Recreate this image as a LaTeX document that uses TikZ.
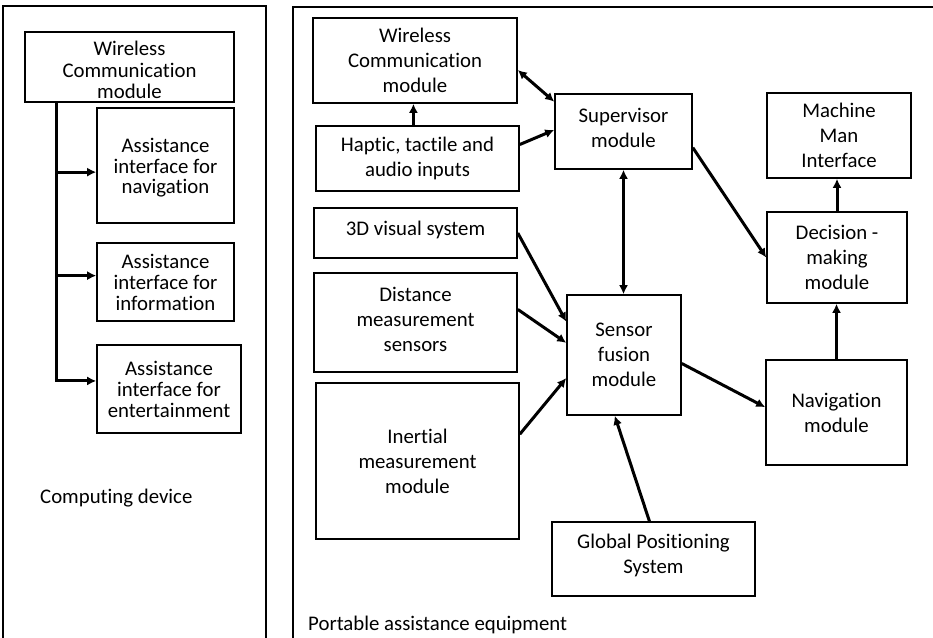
\documentclass[tikz,border=0pt]{standalone}
\usepackage{fontspec}
\setmainfont[Ligatures={NoCommon,NoRequired,NoContextual}]{Carlito}
\usetikzlibrary{arrows.meta,calc}
\begin{document}
\begin{tikzpicture}[x=1pt,y=-1pt,
  box/.style={draw=black,line width=1.6pt,inner sep=0pt,align=center,font=\fontsize{20.8}{25}\selectfont},
  lbox/.style={box,font=\fontsize{20.8}{21}\selectfont},
  txt/.style={inner sep=0pt,align=center,font=\fontsize{20.8}{25}\selectfont},
  frame/.style={draw=black,line width=1.5pt},
  arr/.style={line width=3pt,-{Latex[length=9pt,width=9pt]}},
  darr/.style={line width=3pt,{Latex[length=9pt,width=9pt]}-{Latex[length=9pt,width=9pt]}},
  lbl/.style={inner sep=0pt,font=\fontsize{20.8}{25}\selectfont}]
\useasboundingbox (0,0) rectangle (933,637);
\fill[white] (0,0) rectangle (933,637);
% frames
\draw[frame] (3,640) -- (3,6) -- (266,6) -- (266,640);
\draw[frame] (293,640) -- (293,7) -- (936,7);
% left boxes
\node[lbox,minimum width=209pt,minimum height=70pt] (LWC) at (129.5,67) {};
\node[txt,font=\fontsize{20.8}{21.5}\selectfont] (LWCt) at (129.5,70) {Wireless\\Communication\\module};
\node[lbox,minimum width=137pt,minimum height=115pt] (LNav) at (165.5,165.5) {};
\node[txt,font=\fontsize{20.8}{20.5}\selectfont] (LNavt) at (165.5,168) {Assistance\\interface for\\navigation};
\node[lbox,minimum width=137pt,minimum height=78pt] (LInf) at (165.5,282) {Assistance\\interface for\\information};
\node[lbox,minimum width=144pt,minimum height=88pt] (LEnt) at (169,389) {Assistance\\interface for\\entertainment};
\node[lbl,anchor=base west] (CD) at (40,503) {Computing device};
% right boxes
\node[box,minimum width=204pt,minimum height=85pt] (RWC) at (415,60.5) {Wireless\\Communication\\module};
\node[box,minimum width=203pt,minimum height=65pt] (Hap) at (417.5,158.5) {Haptic, tactile and\\audio inputs};
\node[box,minimum width=203pt,minimum height=50pt] (Vis) at (415.5,233) {};
\node[txt] (Vist) at (415.5,230) {3D visual system};
\node[box,minimum width=203pt,minimum height=99pt] (Dist) at (415.5,322.5) {};
\node[txt] (Distt) at (415.5,319) {Distance\\measurement\\sensors};
\node[box,minimum width=203pt,minimum height=156pt] (Ine) at (417.5,461) {Inertial\\measurement\\module};
\node[box,minimum width=137pt,minimum height=75pt] (Sup) at (623.5,131.5) {};
\node[txt] (Supt) at (623.5,127.5) {Supervisor\\module};
\node[box,minimum width=114pt,minimum height=120pt] (SF) at (624,355) {Sensor\\fusion\\module};
\node[box,minimum width=203pt,minimum height=74pt] (GPS) at (653.5,559) {};
\node[txt] (GPSt) at (653.5,555) {Global Positioning\\System};
\node[box,minimum width=144pt,minimum height=85pt] (MMI) at (839,135.5) {Machine\\Man\\Interface};
\node[box,minimum width=140pt,minimum height=91pt] (Dec) at (837,257.5) {Decision -\\making\\module};
\node[box,minimum width=141pt,minimum height=105pt] (Nav) at (836.5,412.5) {Navigation\\module};
\node[lbl,anchor=base west] (PAE) at (308,630) {Portable assistance equipment};
% left connectors
\coordinate (ltop) at ($(LWC.south west)!0.153!(LWC.south east)$);
\coordinate (pnav) at ($(LNav.north west)!0.557!(LNav.south west)$);
\coordinate (pinf) at ($(LInf.north west)!0.42!(LInf.south west)$);
\coordinate (pent) at ($(LEnt.north west)!0.41!(LEnt.south west)$);
\draw[line width=3pt] (ltop) -- (ltop |- pent);
\draw[arr] (ltop |- pnav) -- (pnav);
\draw[arr] (ltop |- pinf) -- (pinf);
\draw[arr] ([xshift=-1.5pt]ltop |- pent) -- (pent);
% right connectors
\draw[darr] ($(RWC.north east)!0.61!(RWC.south east)$) -- ($(Sup.north west)!0.11!(Sup.south west)$);
\coordinate (hn) at ($(Hap.north west)!0.48!(Hap.north east)$);
\draw[arr] (hn) -- (hn |- RWC.south);
\draw[arr] ($(Hap.north east)!0.29!(Hap.south east)$) -- ($(Sup.north west)!0.48!(Sup.south west)$);
\draw[arr] (Vis.east) -- ($(SF.north west)!0.225!(SF.south west)$);
\draw[arr] ($(Dist.north east)!0.37!(Dist.south east)$) -- ($(SF.north west)!0.4!(SF.south west)$);
\draw[arr] ($(Ine.north east)!0.33!(Ine.south east)$) -- ($(SF.north west)!0.69!(SF.south west)$);
\draw[darr] (Sup.south) -- (Sup.south |- SF.north);
\draw[arr] ($(Sup.north east)!0.71!(Sup.south east)$) -- (Dec.west);
\draw[arr] ($(SF.north east)!0.57!(SF.south east)$) -- ($(Nav.north west)!0.45!(Nav.south west)$);
\draw[arr] ($(GPS.north west)!0.48!(GPS.north east)$) -- ($(SF.south west)!0.42!(SF.south east)$);
\draw[arr] (Dec.north) -- (Dec.north |- MMI.south);
\draw[arr] (Nav.north) -- (Nav.north |- Dec.south);
\end{tikzpicture}
\end{document}
